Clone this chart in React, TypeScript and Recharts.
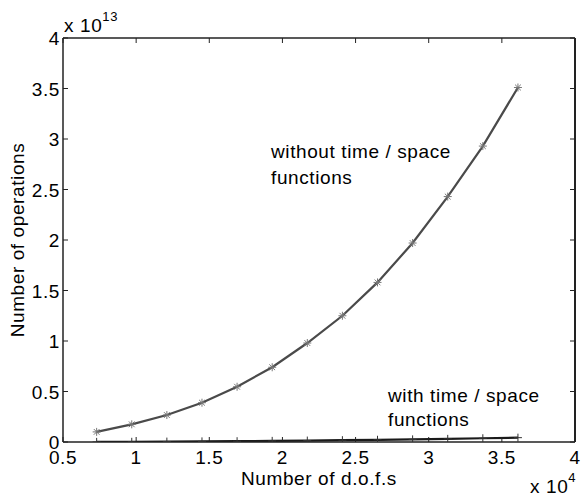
import { LineChart, Line, XAxis, YAxis } from 'recharts';

// d.o.f.s in units of 1e4, operations in units of 1e13
const dofs = [0.73, 0.97, 1.21, 1.45, 1.69, 1.93, 2.17, 2.41, 2.65, 2.89, 3.13, 3.37, 3.61];
const opsWithout = [0.1, 0.175, 0.267, 0.389, 0.547, 0.74, 0.98, 1.25, 1.58, 1.97, 2.43, 2.93, 3.51];
const opsWith = [0.001, 0.002, 0.004, 0.006, 0.008, 0.011, 0.014, 0.018, 0.022, 0.026, 0.031, 0.037, 0.043];

const xTicks = [0.5, 1, 1.5, 2, 2.5, 3, 3.5, 4];
const yTicks = [0, 0.5, 1, 1.5, 2, 2.5, 3, 3.5, 4];

const W = 583;
const H = 500;
const FONT = '"Liberation Sans", Arial, Helvetica, sans-serif';
const AXIS = '#222';

const data = dofs.map((d, i) => ({ dofs: d, without: opsWithout[i], with: opsWith[i] }));

const textStyle = { fontFamily: FONT, fontSize: 19, letterSpacing: 0.6, fill: '#000' };

const BottomTick = (props: any) => {
  const { x, y, payload } = props;
  return (
    <g>
      <line x1={x} y1={y} x2={x} y2={y - 5} stroke={AXIS} strokeWidth={1} />
      <text x={x} y={y + 22} textAnchor="middle" style={textStyle}>{String(payload.value)}</text>
    </g>
  );
};

const LeftTick = (props: any) => {
  const { x, y, payload } = props;
  return (
    <g>
      <line x1={x} y1={y} x2={x + 5} y2={y} stroke={AXIS} strokeWidth={1} />
      <text x={x - 3} y={y + 7} textAnchor="end" style={textStyle}>{String(payload.value)}</text>
    </g>
  );
};

const TopTick = (props: any) => {
  const { x, y } = props;
  return <line x1={x} y1={y} x2={x} y2={y + 5} stroke={AXIS} strokeWidth={1} />;
};

const RightTick = (props: any) => {
  const { x, y } = props;
  return <line x1={x} y1={y} x2={x - 5} y2={y} stroke={AXIS} strokeWidth={1} />;
};

// MATLAB style '*' marker
const StarDot = (props: any) => {
  const { cx, cy } = props;
  if (cx == null || cy == null) return null;
  const r = 4;
  const d = r * 0.72;
  return (
    <g stroke="#777" strokeWidth={1}>
      <line x1={cx - r} y1={cy} x2={cx + r} y2={cy} />
      <line x1={cx} y1={cy - r} x2={cx} y2={cy + r} />
      <line x1={cx - d} y1={cy - d} x2={cx + d} y2={cy + d} />
      <line x1={cx - d} y1={cy + d} x2={cx + d} y2={cy - d} />
    </g>
  );
};

// MATLAB style '+' marker
const PlusDot = (props: any) => {
  const { cx, cy } = props;
  if (cx == null || cy == null) return null;
  const r = 4;
  return (
    <g stroke="#333" strokeWidth={1}>
      <line x1={cx - r} y1={cy} x2={cx + r} y2={cy} />
      <line x1={cx} y1={cy - r} x2={cx} y2={cy + r} />
    </g>
  );
};

export default function App() {
  return (
    <div style={{ position: 'absolute', left: 0, top: 0, width: W, height: H, background: '#fff' }}>
      <LineChart width={W} height={H} data={data} margin={{ top: 37, right: 7, left: 13, bottom: 1 }}>
        <XAxis
          xAxisId="b"
          dataKey="dofs"
          type="number"
          domain={[0.5, 4]}
          ticks={xTicks}
          interval={0}
          height={57}
          tickSize={0}
          tickMargin={0}
          tickLine={false}
          tick={<BottomTick />}
          axisLine={{ stroke: AXIS, strokeWidth: 1.5 }}
          allowDataOverflow
        />
        <XAxis
          xAxisId="t"
          orientation="top"
          dataKey="dofs"
          type="number"
          domain={[0.5, 4]}
          ticks={xTicks}
          interval={0}
          height={1}
          tickSize={0}
          tickMargin={0}
          tickLine={false}
          tick={<TopTick />}
          axisLine={{ stroke: AXIS, strokeWidth: 1.5 }}
          allowDataOverflow
        />
        <YAxis
          yAxisId="l"
          type="number"
          domain={[0, 4]}
          ticks={yTicks}
          interval={0}
          width={50}
          tickSize={0}
          tickMargin={0}
          tickLine={false}
          tick={<LeftTick />}
          axisLine={{ stroke: AXIS, strokeWidth: 1.5 }}
          allowDataOverflow
        />
        <YAxis
          yAxisId="r"
          orientation="right"
          type="number"
          domain={[0, 4]}
          ticks={yTicks}
          interval={0}
          width={1}
          tickSize={0}
          tickMargin={0}
          tickLine={false}
          tick={<RightTick />}
          axisLine={{ stroke: AXIS, strokeWidth: 2 }}
          allowDataOverflow
        />
        <Line
          xAxisId="b"
          yAxisId="l"
          type="linear"
          dataKey="without"
          stroke="#4a4a4a"
          strokeWidth={2.2}
          dot={<StarDot />}
          activeDot={false}
          isAnimationActive={false}
        />
        <Line
          xAxisId="b"
          yAxisId="l"
          type="linear"
          dataKey="with"
          stroke="#1a1a1a"
          strokeWidth={2.2}
          dot={<PlusDot />}
          activeDot={false}
          isAnimationActive={false}
        />
      </LineChart>
      <svg width={W} height={H} style={{ position: 'absolute', left: 0, top: 0, pointerEvents: 'none' }}>
        <text x={64} y={32} style={textStyle}>
          x 10<tspan dy={-11} style={{ fontSize: 13 }}>13</tspan>
        </text>
        <text x={530} y={493} style={textStyle}>
          x 10<tspan dy={-11} style={{ fontSize: 13 }}>4</tspan>
        </text>
        <text x={319} y={485} textAnchor="middle" style={textStyle}>Number of d.o.f.s</text>
        <text x={24} y={240} textAnchor="middle" transform="rotate(-90 24 240)" style={textStyle}>
          Number of operations
        </text>
        <text x={271} y={158} style={textStyle}>without time / space</text>
        <text x={271} y={184} style={textStyle}>functions</text>
        <text x={388} y={402} style={textStyle}>with time / space</text>
        <text x={388} y={426} style={textStyle}>functions</text>
      </svg>
    </div>
  );
}
